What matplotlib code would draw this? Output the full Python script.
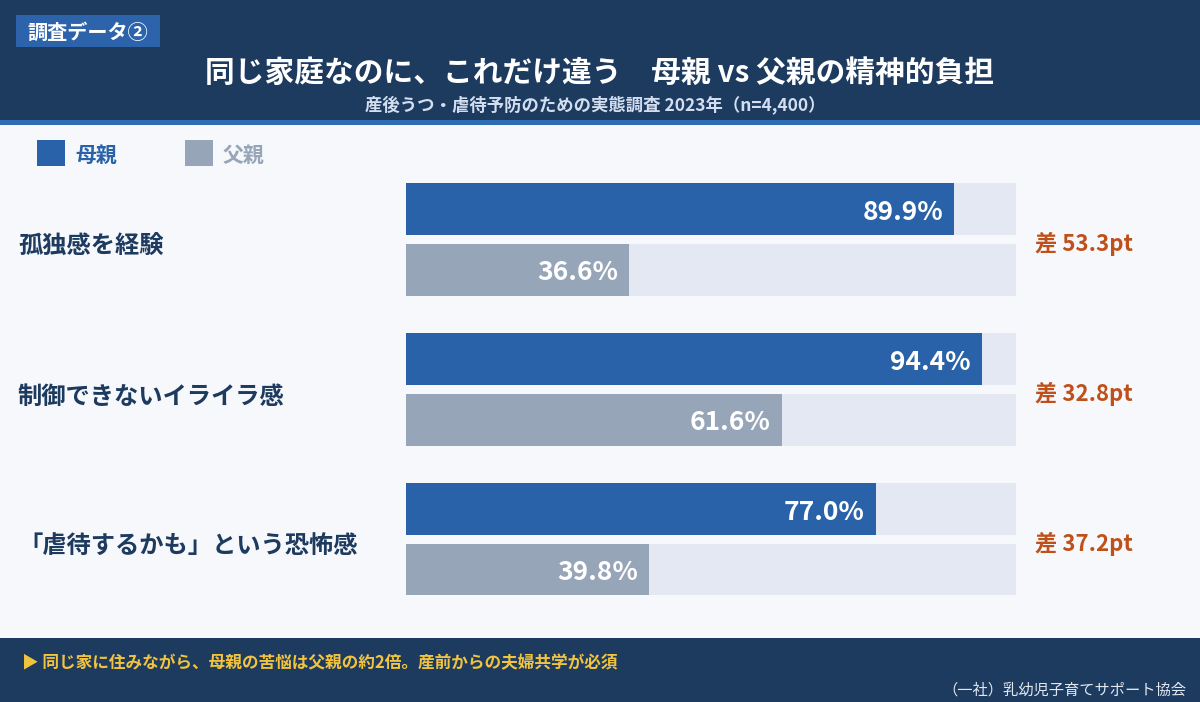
import matplotlib.pyplot as plt
import matplotlib.transforms as mtransforms
from matplotlib.patches import Rectangle
import numpy as np

plt.rcParams['font.family'] = ['Noto Sans CJK JP', 'DejaVu Sans']

# データ
categories = ['孤独感を経験', '制御できないイライラ感', '「虐待するかも」という恐怖感']
mother = [89.9, 94.4, 77.0]
father = [36.6, 61.6, 39.8]
series_names = ['母親', '父親']

title = '同じ家庭なのに、これだけ違う　母親 vs 父親の精神的負担'
subtitle = '産後うつ・虐待予防のための実態調査 2023年（n=4,400）'
badge = '調査データ②'
footer = '▶ 同じ家に住みながら、母親の苦悩は父親の約2倍。産前からの夫婦共学が必須'
credit = '（一社）乳幼児子育てサポート協会'

NAVY = '#1d3a5f'
BLUE = '#2962a9'
GRAY = '#97a5b9'
TRACK = '#e4e8f2'
ORANGE = '#c0501a'
BG = '#f7f8fc'

W, H = 1200, 702
fig = plt.figure(figsize=(W / 100, H / 100), dpi=100, facecolor=BG)


def px(x, y):
    return x / W, 1 - y / H


def rect(x0, y0, x1, y1, color):
    fx, fy = px(x0, y1)
    fig.add_artist(Rectangle((fx, fy), (x1 - x0) / W, (y1 - y0) / H,
                             transform=fig.transFigure, color=color, lw=0, zorder=0))


# ヘッダー・フッター
rect(0, 0, W, 121, NAVY)
rect(0, 120, W, 125, '#2e6cb3')
rect(0, 638, W, H, NAVY)
rect(16, 15, 160, 47, '#2c63ab')

fig.text(*px(27, 32), badge, color='white', fontsize=14.5, fontweight='bold', va='center')
fig.text(*px(600, 73), title, color='white', fontsize=21.4, fontweight='bold',
         ha='center', va='center')
fig.text(*px(595, 106), subtitle, color='#d3dff0', fontsize=12.5, fontweight='bold',
         ha='center', va='center')
fig.text(*px(22, 663), footer, color='#f2c43e', fontsize=12, fontweight='bold', va='center')
fig.text(*px(1186, 690), credit, color='#e2e8f0', fontsize=11, ha='right', va='center')

# 凡例
rect(37, 140, 65, 166, BLUE)
rect(185, 140, 213, 166, GRAY)
fig.text(*px(75, 155), series_names[0], color=BLUE, fontsize=15, fontweight='bold', va='center')
fig.text(*px(223, 155), series_names[1], color=GRAY, fontsize=15, fontweight='bold', va='center')

# 棒グラフ
left, right, top, bottom = 406, 1016, 183, 595
ax = fig.add_axes([left / W, 1 - bottom / H, (right - left) / W, (bottom - top) / H])
ax.set_facecolor('none')
ax.set_xlim(0, 100)
ax.set_ylim(2.37, -0.377)
ax.axis('off')

y = np.arange(len(categories))
h = 0.347
off = 0.203
ax.barh(y - off, [100] * len(y), height=h, color=TRACK, lw=0)
ax.barh(y + off, [100] * len(y), height=h, color=TRACK, lw=0)
ax.barh(y - off, mother, height=h, color=BLUE, lw=0)
ax.barh(y + off, father, height=h, color=GRAY, lw=0)

for i in range(len(categories)):
    ax.annotate(f'{mother[i]:.1f}%', (mother[i], y[i] - off + 0.02), xytext=(-8, 0),
                textcoords='offset points', ha='right', va='center',
                color='white', fontsize=19, fontweight='bold')
    ax.annotate(f'{father[i]:.1f}%', (father[i], y[i] + off + 0.02), xytext=(-8, 0),
                textcoords='offset points', ha='right', va='center',
                color='white', fontsize=19, fontweight='bold')

trans = mtransforms.blended_transform_factory(fig.transFigure, ax.transData)
for i, cat in enumerate(categories):
    fig.text(18 / W, y[i] + 0.05, cat, transform=trans, color=NAVY, fontsize=17.5,
             fontweight='bold', va='center')
    diff = mother[i] - father[i]
    fig.text(1035 / W, y[i] + 0.03, f'差 {diff:.1f}pt', transform=trans, color=ORANGE,
             fontsize=16, fontweight='bold', va='center')

fig.savefig('out.png', dpi=100, facecolor=BG)
